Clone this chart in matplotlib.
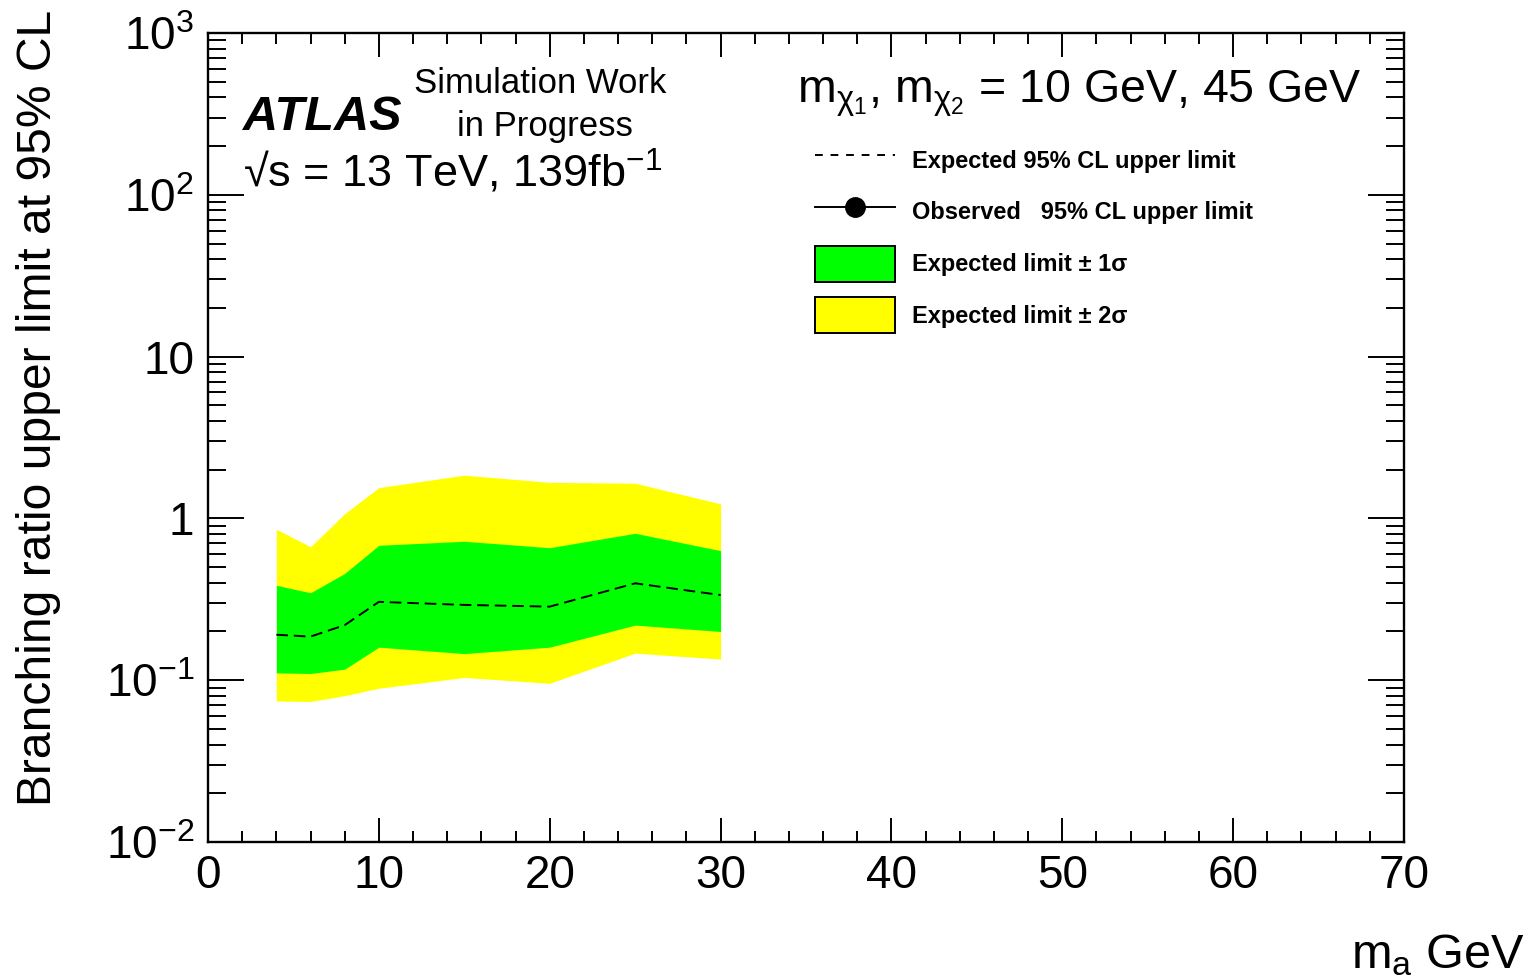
import numpy as np
import matplotlib
matplotlib.use('Agg')
import matplotlib.pyplot as plt
from matplotlib.lines import Line2D
from matplotlib.patches import Patch
from matplotlib.ticker import MultipleLocator, LogLocator, NullFormatter

plt.rcParams['font.family'] = ['Liberation Sans', 'DejaVu Sans']
plt.rcParams['mathtext.fontset'] = 'custom'
plt.rcParams['mathtext.rm'] = 'Liberation Sans'
plt.rcParams['mathtext.it'] = 'Liberation Sans:italic'
plt.rcParams['mathtext.bf'] = 'Liberation Sans:bold'

# mass points (GeV) and limits
m_a = [4, 6, 8, 10, 15, 20, 25, 30]
expected = [0.191, 0.186, 0.219, 0.305, 0.292, 0.285, 0.397, 0.336]
plus1 = [0.386, 0.347, 0.457, 0.682, 0.722, 0.659, 0.809, 0.632]
minus1 = [0.111, 0.110, 0.117, 0.160, 0.146, 0.160, 0.219, 0.200]
plus2 = [0.857, 0.668, 1.07, 1.55, 1.85, 1.67, 1.65, 1.23]
minus2 = [0.0744, 0.0739, 0.0802, 0.0892, 0.104, 0.0957, 0.147, 0.135]

yticks = [1e-2, 1e-1, 1, 10, 1e2, 1e3]
ytick_labels = ['$10^{-2}$', '$10^{-1}$', '1', '10', '$10^{2}$', '$10^{3}$']

fig = plt.figure(figsize=(15.34, 9.77), dpi=100)
ax = fig.add_axes([208/1534, 1-842/977, 1196/1534, 809/977])

ax.fill_between(m_a, minus2, plus2, color='#ffff00', lw=0)
ax.fill_between(m_a, minus1, plus1, color='#00ff00', lw=0)
ax.plot(m_a, expected, color='black', lw=1.4, dashes=(6, 3))

ax.set_yscale('log')
ax.set_xlim(0, 70)
ax.set_ylim(1e-2, 1e3)

ax.xaxis.set_major_locator(MultipleLocator(10))
ax.xaxis.set_minor_locator(MultipleLocator(2))
ax.set_yticks(yticks, ytick_labels)
ax.yaxis.set_minor_locator(LogLocator(base=10, subs=np.arange(2, 10)))
ax.yaxis.set_minor_formatter(NullFormatter())

ax.tick_params(axis='both', which='both', direction='in', top=True, right=True,
               width=1.4, labelsize=33)
ax.tick_params(axis='x', which='major', length=17, pad=9)
ax.tick_params(axis='x', which='minor', length=8)
ax.tick_params(axis='y', which='major', length=26, pad=10)
ax.tick_params(axis='y', which='minor', length=13)
for s in ax.spines.values():
    s.set_linewidth(1.7)

ax.set_ylabel('Branching ratio upper limit at 95% CL', fontsize=34.6)
ax.yaxis.set_label_coords(-0.123, 0.5365)
fig.text(1525/1534, 1-955/977, r'm$_{\mathrm{a}}$ GeV', fontsize=35,
         ha='right', va='center')

ax.text(0.029, 0.880, 'ATLAS', transform=ax.transAxes, fontsize=35,
        fontweight='bold', fontstyle='italic', va='baseline')
ax.text(0.2776, 0.938, 'Simulation Work', transform=ax.transAxes, fontsize=25,
        ha='center', va='center')
ax.text(0.2818, 0.885, 'in Progress', transform=ax.transAxes, fontsize=25,
        ha='center', va='center')
ax.text(0.029, 0.8097, '\u221as = 13 TeV, 139fb$^{-1}$', transform=ax.transAxes,
        fontsize=32.5, va='baseline')
ax.text(0.4925, 0.9135,
        'm$_{\\mathrm{χ}_{1}}$, m$_{\\mathrm{χ}_{2}}$ = 10 GeV, 45 GeV',
        transform=ax.transAxes, fontsize=33.5, va='baseline')

handles = [
    Line2D([], [], color='black', lw=1.4, dashes=(4, 4)),
    Line2D([], [], color='black', lw=1.4, marker='o', markersize=14),
    Patch(facecolor='#00ff00', edgecolor='black', lw=1.4),
    Patch(facecolor='#ffff00', edgecolor='black', lw=1.4),
]
labels = ['Expected 95% CL upper limit', 'Observed   95% CL upper limit',
          'Expected limit \u00b1 1\u03c3', 'Expected limit \u00b1 2\u03c3']
ax.legend(handles, labels, loc='upper left', bbox_to_anchor=(0.5075, 0.865),
          frameon=False, borderpad=0, borderaxespad=0,
          prop={'weight': 'bold', 'size': 17},
          handlelength=3.39, handleheight=1.97, labelspacing=0.665,
          handletextpad=0.72)

fig.savefig('out.png', dpi=100)
